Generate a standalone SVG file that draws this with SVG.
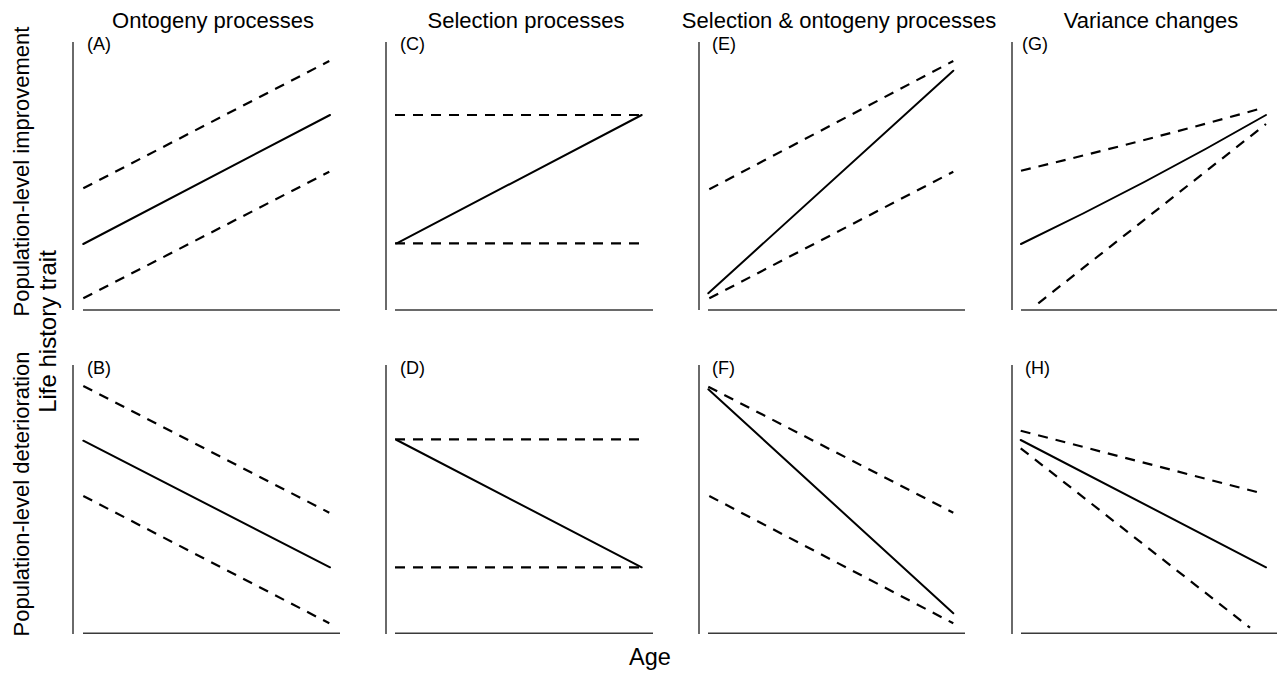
<svg xmlns="http://www.w3.org/2000/svg" width="1284" height="673" viewBox="0 0 1284 673">
<style>
  .bg{fill:#ffffff}
  .axis{stroke:#3a3a3a;stroke-width:1.5;fill:none}
  .solid{stroke:#000;stroke-width:2;fill:none;stroke-linecap:round}
  .dash{stroke:#000;stroke-width:2.2;fill:none;stroke-dasharray:10 8}
  text{font-family:"Liberation Sans",Arial,sans-serif;fill:#000}
  .title{font-size:22px;text-anchor:middle}
  .lab{font-size:18px}
  .ylab{font-size:22px;text-anchor:middle}
</style>
<rect class="bg" x="0" y="0" width="1284" height="673"/>

<g id="labels">
  <text class="title" x="213" y="28">Ontogeny processes</text>
  <text class="title" x="526" y="28">Selection processes</text>
  <text class="title" x="839" y="28">Selection &amp; ontogeny processes</text>
  <text class="title" x="1151" y="28">Variance changes</text>
  <text class="ylab" transform="translate(29,171.5) rotate(-90)">Population-level improvement</text>
  <text class="ylab" transform="translate(29,494) rotate(-90)">Population-level deterioration</text>
  <text class="ylab" transform="translate(56,331.5) rotate(-90)" style="font-size:24px">Life history trait</text>
  <text class="ylab" x="650" y="665" style="font-size:23.5px">Age</text>
</g>

<g id="panelA">
  <path class="axis" d="M73,42 V310 M83,310 H340"/>
  <text class="lab" x="87" y="50">(A)</text>
  <path class="dash" d="M83.3,188.3 L329.3,61"/>
  <path class="solid" d="M83.3,244 L330,115"/>
  <path class="dash" d="M83.3,298.3 L329.3,171.7"/>
</g>

<g id="panelB">
  <path class="axis" d="M73,365 V634 M83,633.3 H340"/>
  <text class="lab" x="87" y="374">(B)</text>
  <path class="dash" d="M83.3,386 L329.3,512.7"/>
  <path class="solid" d="M83.3,440.7 L330,567.3"/>
  <path class="dash" d="M83.3,496 L329.3,623.3"/>
</g>

<g id="panelC">
  <path class="axis" d="M386,42 V310 M395,310 H653"/>
  <text class="lab" x="400" y="50">(C)</text>
  <path class="dash" d="M395,115 L641.7,115"/>
  <path class="dash" d="M395,243.3 L640,243.3"/>
  <path class="solid" d="M396.7,243.3 L641.7,115"/>
</g>

<g id="panelD">
  <path class="axis" d="M386,365 V634 M395,633.3 H653"/>
  <text class="lab" x="400" y="374">(D)</text>
  <path class="dash" d="M395,439.3 L640,439.3"/>
  <path class="dash" d="M395,567.3 L641.7,567.3"/>
  <path class="solid" d="M396.7,440 L641.7,567.3"/>
</g>

<g id="panelE">
  <path class="axis" d="M699,42 V310 M708,310 H965"/>
  <text class="lab" x="712" y="50">(E)</text>
  <path class="dash" d="M709.3,189.3 L953.3,61"/>
  <path class="solid" d="M708.3,293.3 L953.3,70.7"/>
  <path class="dash" d="M709.3,298.3 L953.3,171.7"/>
</g>

<g id="panelF">
  <path class="axis" d="M699,365 V634 M708,633.3 H965"/>
  <text class="lab" x="712" y="374">(F)</text>
  <path class="dash" d="M708.3,386.7 L953.3,512.7"/>
  <path class="solid" d="M708.3,389.3 L953.3,613.3"/>
  <path class="dash" d="M709.3,496 L953.3,623.3"/>
</g>

<g id="panelG">
  <path class="axis" d="M1012,42 V310 M1021,310 H1277"/>
  <text class="lab" x="1022" y="50">(G)</text>
  <path class="dash" d="M1021,170.7 Q1141,142 1261.7,108.3"/>
  <path class="solid" d="M1021,244 Q1146,184 1266,115"/>
  <path class="dash" d="M1038.3,303.3 L1266,124"/>
</g>

<g id="panelH">
  <path class="axis" d="M1012,365 V634 M1021,633.3 H1277"/>
  <text class="lab" x="1025" y="374">(H)</text>
  <path class="dash" d="M1020.7,430.7 L1261.7,493.3"/>
  <path class="solid" d="M1020.7,440 L1266,567.3"/>
  <path class="dash" d="M1020.7,448.3 L1250,627.7"/>
</g>
</svg>
